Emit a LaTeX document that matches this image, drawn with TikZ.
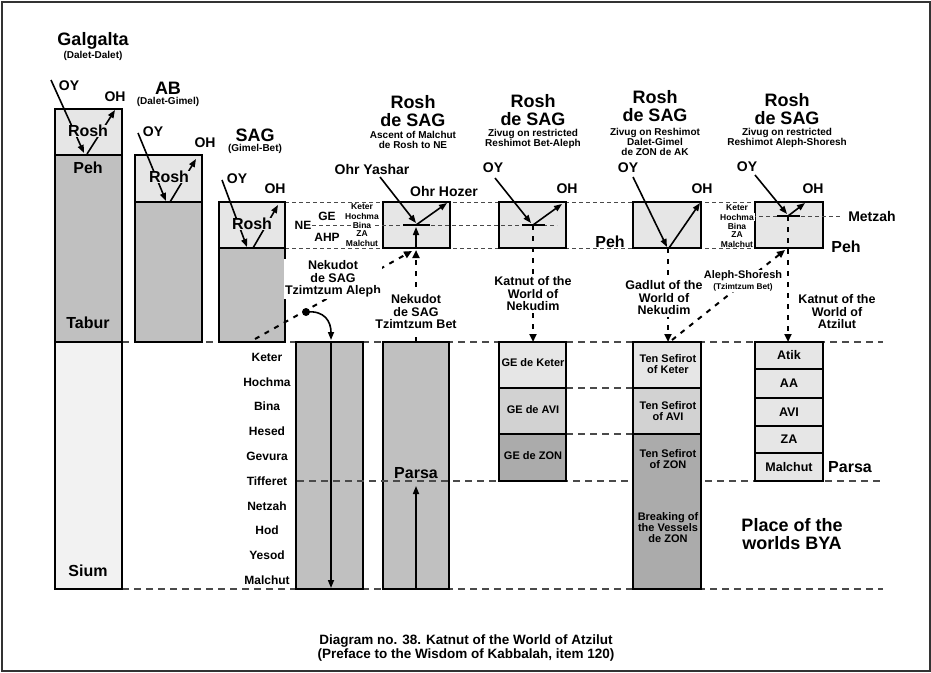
\documentclass[tikz,border=0pt]{standalone}
\usepackage{fontspec}
\setmainfont{Liberation Sans}
\usetikzlibrary{arrows.meta}
\newcommand{\fsz}[1]{\fontsize{#1}{#1}\selectfont\bfseries}
\definecolor{cLight}{HTML}{E6E6E6}
\definecolor{cMid}{HTML}{C0C0C0}
\definecolor{cPale}{HTML}{F2F2F2}
\definecolor{cAvi}{HTML}{D2D2D2}
\definecolor{cDark}{HTML}{ABABAB}
\definecolor{cDash}{HTML}{4A4A4A}
\definecolor{cFrame}{HTML}{333333}
\begin{document}
\begin{tikzpicture}[x=1pt,y=-1pt,
  box/.style={draw=black, line width=2pt},
  arr/.style={line width=1.6pt, -{Triangle[length=8pt,width=6pt]}},
  vd/.style={line width=2pt, dash pattern=on 5pt off 6pt, -{Triangle[length=8pt,width=7pt]}},
  hd/.style={draw=cDash, line width=1.3pt, dash pattern=on 7pt off 5pt},
  hs/.style={draw=cDash, line width=1pt, dash pattern=on 4pt off 3pt},
  t/.style={inner sep=0.5pt, align=center, font=\fsz{#1}},
  t/.default=12,
  wt/.style={t=#1, fill=white, inner sep=1.5pt},
]
\useasboundingbox (0,0) rectangle (931,672);
\draw[cFrame, line width=2pt] (1.5,1.5) rectangle (929.5,670.5);

% ---------- horizontal dashed guide lines (behind) ----------
\draw[hd] (122,342) -- (883,342);
\draw[hd] (122,589) -- (883,589);
\draw[hd] (566,388) -- (633,388);
\draw[hd] (566,434) -- (633,434);
\draw[hs] (285,202) -- (755,202);
\draw[hs] (285,248) -- (755,248);

% ---------- Galgalta ----------
\draw[box, fill=cLight] (55,109) rectangle (122,155);
\draw[box, fill=cMid] (55,155) rectangle (122,342);
\draw[box, fill=cPale] (55,342) rectangle (122,589);
\node[t=18] (galT) at (93,41) {Galgalta};
\node[t=10] (galS) at (93,56) {(Dalet-Dalet)};
\coordinate (gOY) at (51,80); \coordinate (gP1) at (84,153);
\coordinate (gP2) at (87,154); \coordinate (gOH) at (115,110);
\draw[arr] (gOY) -- (gP1);
\draw[arr] (gP2) -- (gOH);
\node[t=16, fill=cLight] (gR) at (88,131) {Rosh};
\node[t=14] (gOYl) at (69,86) {OY};
\node[t=14] (gOHl) at (115,97) {OH};
\node[t=16] (gPeh) at (88,168) {Peh};
\node[t=16] (gTab) at (88,323) {Tabur};
\node[t=16] (gSium) at (88,571) {Sium};

% ---------- AB ----------
\draw[box, fill=cLight] (135,155) rectangle (202,202);
\draw[box, fill=cMid] (135,202) rectangle (202,342);
\node[t=18] (abT) at (168,88) {AB};
\node[t=10] (abS) at (168,102) {(Dalet-Gimel)};
\coordinate (aOY) at (138,133); \coordinate (aP1) at (166,201);
\coordinate (aP2) at (170,202); \coordinate (aOH) at (196,159);
\draw[arr] (aOY) -- (aP1);
\draw[arr] (aP2) -- (aOH);
\node[t=16, fill=cLight] (aR) at (169,177) {Rosh};
\node[t=14] (aOYl) at (153,132) {OY};
\node[t=14] (aOHl) at (205,143) {OH};

% ---------- SAG ----------
\draw[box, fill=cLight] (219,202) rectangle (285,248);
\draw[box, fill=cMid] (219,248) rectangle (285,342);
\node[t=18] (sT) at (255,135) {SAG};
\node[t=10] (sS) at (255,149) {(Gimel-Bet)};
\coordinate (sOY) at (222,180); \coordinate (sP1) at (247,247);
\coordinate (sP2) at (253,248); \coordinate (sOH) at (278,205);
\draw[arr] (sOY) -- (sP1);
\draw[arr] (sP2) -- (sOH);
\node[t=16, fill=cLight] (sR) at (252,224) {Rosh};
\node[t=14] (sOYl) at (237,179) {OY};
\node[t=14] (sOHl) at (275,189) {OH};

% ---------- Rosh de SAG boxes ----------
\draw[box, fill=cLight] (383,202) rectangle (450,248);
\draw[box, fill=cLight] (499,202) rectangle (566,248);
\draw[box, fill=cLight] (633,202) rectangle (701,248);
\draw[box, fill=cLight] (755,202) rectangle (823,248);

\node[t=18] (r1T) at (413,111) {Rosh\\de SAG};
\node[t=10] (r1S) at (413,140) {Ascent of Malchut\\de Rosh to NE};
\node[t=18] (r2T) at (533,110) {Rosh\\de SAG};
\node[t=10] (r2S) at (533,139) {Zivug on restricted\\Reshimot Bet-Aleph};
\node[t=18] (r3T) at (655,106) {Rosh\\de SAG};
\node[t=10] (r3S) at (655,142) {Zivug on Reshimot\\Dalet-Gimel\\de ZON de AK};
\node[t=18] (r4T) at (787,109) {Rosh\\de SAG};
\node[t=10] (r4S) at (787,138) {Zivug on restricted\\Reshimot Aleph-Shoresh};

% middle dashed lines (NE, Metzah)
\draw[hs] (312,225) -- (557,225);
\draw[hs] (752,216) -- (840,216);

% NE labels
\node[t=12] (ge) at (327,216) {GE};
\node[wt=12, inner sep=1pt] (ne) at (303,225) {NE};
\node[t=12] (ahp) at (327,237) {AHP};
\node[t=8.5] (k1) at (362,207) {Keter};
\node[t=8.5] (h1) at (362,216) {Hochma};
\node[wt=8.5, inner sep=0.8pt] (b1) at (362,225) {Bina};
\node[t=8.5] (z1) at (362,234) {ZA};
\node[t=8.5] (m1) at (362,243) {Malchut};

\node[t=8.5] (k4) at (737,208) {Keter};
\node[wt=8.5, inner sep=0.8pt] (h4) at (737,217) {Hochma};
\node[t=8.5] (b4) at (737,226) {Bina};
\node[t=8.5] (z4) at (737,235) {ZA};
\node[t=8.5] (m4) at (737,244) {Malchut};

\node[t=14] (metz) at (872,216) {Metzah};
\node[t=16] (pehR) at (846,247) {Peh};
\node[t=16] (pehL) at (610,242) {Peh};

% box 1
\coordinate (b1OY) at (380,177); \coordinate (b1C) at (416,225);
\coordinate (b1OH) at (447,203); \coordinate (b1B) at (416,248);
\draw[arr] (b1OY) -- (416,223);
\draw[arr] (b1C) -- (b1OH);
\draw[line width=2pt] (403,225) -- (430,225);
\draw[arr] (b1B) -- (416,227);
\node[t=14] (b1OYl) at (372,169) {Ohr Yashar};
\node[t=14] (b1OHl) at (444,191) {Ohr Hozer};

% box 2
\coordinate (b2OY) at (495,178); \coordinate (b2C) at (533,225);
\coordinate (b2OH) at (562,204);
\draw[arr] (b2OY) -- (531,223);
\draw[arr] (b2C) -- (b2OH);
\draw[line width=2pt] (522,225) -- (545,225);
\node[t=14] (b2OYl) at (493,168) {OY};
\node[t=14] (b2OHl) at (567,189) {OH};

% box 3
\coordinate (b3OY) at (633,177); \coordinate (b3C) at (668,248);
\coordinate (b3OH) at (700,203);
\draw[arr] (b3OY) -- (667,247);
\draw[arr] (669,248) -- (b3OH);
\node[t=14] (b3OYl) at (628,168) {OY};
\node[t=14] (b3OHl) at (702,189) {OH};

% box 4
\coordinate (b4OY) at (755,175); \coordinate (b4C) at (788,216);
\coordinate (b4OH) at (805,203); \coordinate (b4B) at (785,250);
\draw[arr] (b4OY) -- (787,214);
\draw[arr] (b4C) -- (b4OH);
\draw[line width=2pt] (777,216) -- (800,216);
\node[t=14] (b4OYl) at (747,167) {OY};
\node[t=14] (b4OHl) at (813,189) {OH};

% ---------- lower columns ----------
\draw[box, fill=cMid] (296,342) rectangle (363,589);
\draw[box, fill=cMid] (383,342) rectangle (449,589);
\draw[hd] (297,481) -- (883,481);

\draw[box, fill=cLight] (499,342) rectangle (566,388);
\draw[box, fill=cAvi] (499,388) rectangle (566,434);
\draw[box, fill=cDark] (499,434) rectangle (566,481);
\node[t=11] (geK) at (533,363) {GE de Keter};
\node[t=11] (geA) at (533,410) {GE de AVI};
\node[t=11] (geZ) at (533,456) {GE de ZON};

\draw[box, fill=cLight] (633,342) rectangle (701,388);
\draw[box, fill=cAvi] (633,388) rectangle (701,434);
\draw[box, fill=cDark] (633,434) rectangle (701,589);
\node[t=11] (tsK) at (668,364) {Ten Sefirot\\of Keter};
\node[t=11] (tsA) at (668,411) {Ten Sefirot\\of AVI};
\node[t=11] (tsZ) at (668,459) {Ten Sefirot\\of ZON};
\node[t=11] (tsB) at (668,528) {Breaking of\\the Vessels\\de ZON};

\foreach \ya/\yb/\nm/\lab in {342/369/atik/Atik, 369/398/aa/AA, 398/426/avi/AVI, 426/453/za/ZA, 453/481/mal/Malchut}{
  \draw[box, fill=cLight] (755,\ya) rectangle (823,\yb);
  \node[t=12.5] (\nm) at (789,{(\ya+\yb)/2}) {\lab};
}
\node[t=16] (parsaR) at (850,467) {Parsa};
\node[t=18] (bya) at (792,534) {Place of the\\worlds BYA};

% sefirot list
\foreach \i/\s in {0/Keter,1/Hochma,2/Bina,3/Hesed,4/Gevura,5/Tifferet,6/Netzah,7/Hod,8/Yesod,9/Malchut}{
  \node[t=12] (sf\i) at (267,{357+24.8*\i}) {\s};
}

% Parsa column arrow
\node[t=16] (parsaC) at (416,473) {Parsa};
\coordinate (pcB) at (416,588); \coordinate (pcT) at (416,486);
\draw[arr] (pcB) -- (pcT);

% ---------- dashed connectors ----------
% Tzimtzum Aleph
\coordinate (taS) at (255,339); \coordinate (taE) at (412,251);
\draw[vd] (taS) -- (taE);
\node[wt=12.5] (taL) at (333,279) {Nekudot\\de SAG\\Tzimtzum Aleph};
\coordinate (dot) at (306,312);
\fill (dot) circle (4pt);
\coordinate (colAT) at (331,340);
\draw[line width=1.6pt, -{Triangle[length=8pt,width=6pt]}] (dot) .. controls (325,310) and (331,322) .. (colAT);
\coordinate (colAB) at (331,588);
\draw[arr] (331,342) -- (colAB);

% Tzimtzum Bet
\coordinate (tbS) at (416,342); \coordinate (tbE) at (416,250);
\draw[vd] (tbS) -- (tbE);
\node[wt=12.5] (tbL) at (416,312) {Nekudot\\de SAG\\Tzimtzum Bet};

% Katnut of Nekudim
\coordinate (knE) at (533,342);
\draw[vd] (b2C) -- (knE);
\node[wt=12.5] (knL) at (533,294) {Katnut of the\\World of\\Nekudim};

% Gadlut
\coordinate (gnE) at (668,342);
\draw[vd] (b3C) -- (gnE);
\node[wt=12.5] (gnL) at (664,298) {Gadlut of the\\World of\\Nekudim};

% Aleph-Shoresh
\coordinate (asS) at (672,340);
\draw[vd] (asS) -- (b4B);
\node[fill=white, inner sep=1pt, align=center] (asL) at (743,281) {\fsz{11}Aleph-Shoresh\\[-1.5pt]\fsz{8.3}(Tzimtzum Bet)};

% Katnut of Atzilut
\coordinate (kaE) at (788,342);
\draw[vd] (b4C) -- (kaE);
\node[t=12.5] (kaL) at (837,312) {Katnut of the\\World of\\Atzilut};

% caption
\node[t=13.5] (cap1) at (466,641) {Diagram no. 38. Katnut of the World of Atzilut};
\node[t=13.5] (cap2) at (466,655) {(Preface to the Wisdom of Kabbalah, item 120)};
\end{tikzpicture}
\end{document}
